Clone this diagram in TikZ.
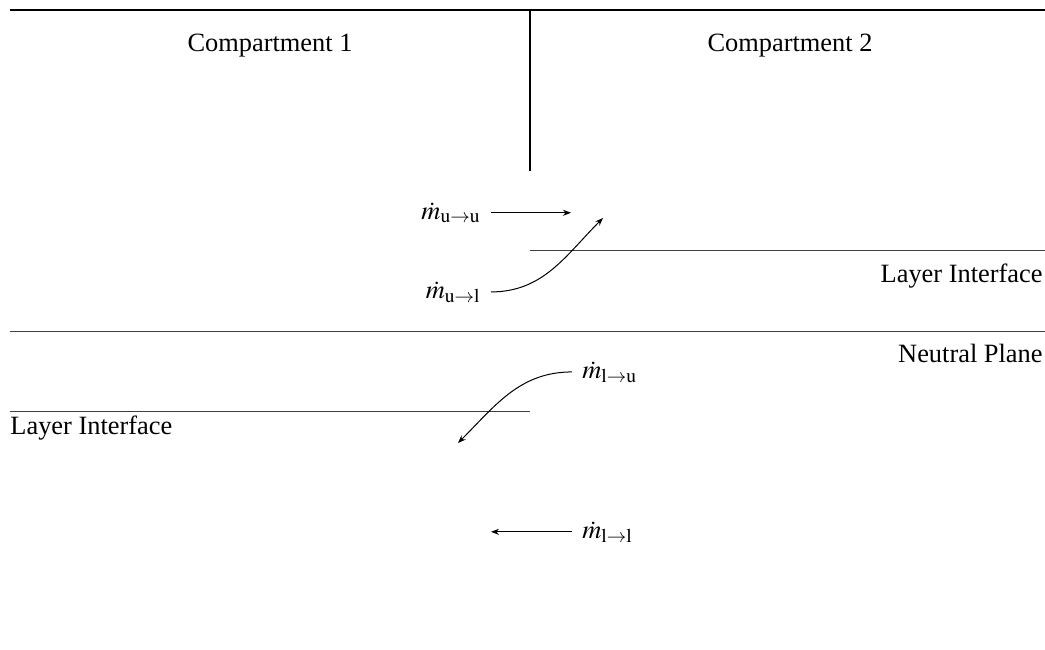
\documentclass[tikz,border=0pt]{standalone}
\usepackage{mathptmx}
\usepackage{fontspec}
\setmainfont{Liberation Serif}
\usetikzlibrary{arrows.meta}
\begin{document}
\begin{tikzpicture}[x=0.5pt,y=-0.5pt,
  txt/.style={inner sep=0pt,font=\fontsize{13.2}{15}\selectfont},
  lbl/.style={inner xsep=5pt,inner ysep=0pt,font=\fontsize{13.2}{15}\selectfont},
  wall/.style={line width=1pt,black},
  thin/.style={line width=0.5pt,black!75},
  arr/.style={line width=0.5pt,black,-{Stealth[length=4pt,width=3pt]}}]
\useasboundingbox (0,0) rectangle (1045,649);
% walls
\coordinate (topL) at (10,10);
\coordinate (topR) at (1045,10);
\coordinate (wallTop) at (530,10);
\coordinate (wallBot) at (530,171);
\draw[wall] (topL) -- (topR);
\draw[wall] (wallTop) -- (wallBot);
% interfaces
\coordinate (liRa) at (530,250);
\coordinate (liRb) at (1045,250);
\coordinate (npL) at (10,331);
\coordinate (npR) at (1045,331);
\coordinate (liLa) at (10,411);
\coordinate (liLb) at (530,411);
\draw[thin] (liRa) -- (liRb);
\draw[thin] (npL) -- (npR);
\draw[thin] (liLa) -- (liLb);
% texts
\node[txt,anchor=base] (c1) at (270,51) {Compartment 1};
\node[txt,anchor=base] (c2) at (790,51) {Compartment 2};
\node[txt,anchor=base east] (liR) at (1043,282) {Layer Interface};
\node[txt,anchor=base east] (np) at (1043,362) {Neutral Plane};
\node[txt,anchor=base west] (liL) at (10,434) {Layer Interface};
% flow labels
\node[lbl,anchor=base east] (muu) at (491,219) {$\dot{m}_{\mathrm{u}\to\mathrm{u}}$};
\node[lbl,anchor=base east] (mul) at (491,298) {$\dot{m}_{\mathrm{u}\to\mathrm{l}}$};
\node[lbl,anchor=base west] (mlu) at (572,378) {$\dot{m}_{\mathrm{l}\to\mathrm{u}}$};
\node[lbl,anchor=base west] (mll) at (572,538) {$\dot{m}_{\mathrm{l}\to\mathrm{l}}$};
% arrow ends
\coordinate (uuT) at (571,211);
\coordinate (ulT) at (603,218);
\coordinate (luT) at (458,443);
\coordinate (llT) at (491,532);
\draw[arr] (muu.east) -- (muu.east -| uuT);
\draw[arr] (mul.east) to[out=0,in=-135] (ulT);
\draw[arr] (mlu.west) to[out=180,in=45] (luT);
\draw[arr] (mll.west) -- (mll.west -| llT);
\end{tikzpicture}
\end{document}
